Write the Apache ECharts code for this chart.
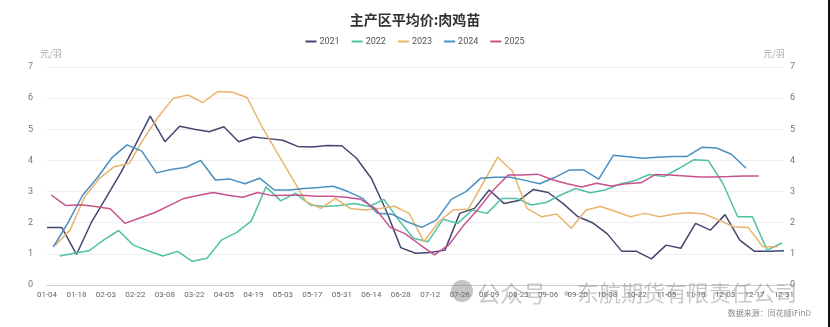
<!DOCTYPE html>
<html>
<head>
<meta charset="utf-8">
<script src="https://cdn.jsdelivr.net/npm/echarts@6/dist/echarts.min.js"></script>
<style>
  html, body { margin: 0; padding: 0; background: #fff; }
  #chart { width: 830px; height: 327px; }
</style>
</head>
<body>
<div id="chart"></div>
<script>
// Axis labels, one every two weeks
const tickLabels = ['01-04','01-18','02-03','02-22','03-08','03-22','04-05','04-19','05-03','05-17',
  '05-31','06-14','06-28','07-12','07-26','08-09','08-23','09-06','09-20','10-08',
  '10-22','11-05','11-19','12-03','12-17','12-31'];

const years = ['2021', '2022', '2023', '2024', '2025'];

// Day of January of each year's first weekly quote (axis origin is 01-04)
const firstDay = [4, 10, 8, 7, 6];

// Weekly average price of broiler chicks in main producing areas (yuan per chick)
const price2021 = [1.85,1.85,0.98,2.0,2.8,3.6,4.5,5.42,4.6,5.1,5.0,4.92,5.08,4.6,4.75,4.7,4.65,4.45,4.43,4.48,
  4.47,4.07,3.43,2.4,1.2,1.02,1.04,1.12,2.3,2.46,3.05,2.62,2.71,3.07,2.97,2.62,2.2,2.0,1.65,1.08,
  1.08,0.84,1.28,1.18,1.98,1.76,2.26,1.44,1.08,1.08,1.1];
const price2022 = [0.93,1.02,1.1,1.45,1.75,1.28,1.1,0.93,1.08,0.76,0.86,1.45,1.68,2.05,3.15,2.7,2.95,2.57,2.52,2.55,
  2.62,2.52,2.75,2.09,1.5,1.39,2.11,1.98,2.41,2.3,2.78,2.78,2.57,2.65,2.89,3.1,2.96,3.05,3.24,3.35,
  3.55,3.48,3.74,4.02,4.0,3.26,2.19,2.19,1.12,1.35];
const price2023 = [1.28,1.77,2.84,3.43,3.8,3.9,4.71,5.41,6.0,6.1,5.86,6.21,6.19,6.02,5.09,4.28,3.48,2.68,2.46,2.78,
  2.46,2.41,2.46,2.53,2.3,1.39,2.03,2.41,2.43,3.26,4.1,3.66,2.46,2.19,2.28,1.82,2.41,2.52,2.36,2.19,
  2.3,2.19,2.28,2.32,2.28,2.09,1.87,1.85,1.23,1.23];
const price2024 = [1.22,2.0,2.89,3.45,4.1,4.5,4.3,3.6,3.71,3.78,4.0,3.37,3.4,3.25,3.43,3.05,3.05,3.1,3.13,3.17,
  3.0,2.78,2.3,2.27,2.03,1.85,2.09,2.75,3.0,3.43,3.46,3.46,3.36,3.25,3.45,3.69,3.69,3.4,4.17,4.12,
  4.07,4.1,4.13,4.13,4.42,4.4,4.2,3.75];
const price2025 = [2.89,2.55,2.58,2.52,2.45,1.98,2.15,2.32,2.55,2.78,2.88,2.97,2.88,2.82,2.97,2.87,2.88,2.88,2.85,2.85,
  2.82,2.75,2.45,1.85,1.65,1.3,0.97,1.3,1.93,2.46,3.05,3.53,3.53,3.56,3.38,3.25,3.15,3.27,3.18,3.25,
  3.28,3.55,3.53,3.5,3.47,3.47,3.48,3.5,3.5];

const prices = [price2021, price2022, price2023, price2024, price2025];
const colors = ['#434871', '#4fc2a5', '#e9b46e', '#4a8fc1', '#c7528c'];

// Place each weekly quote on the week axis (week 0 = 01-04)
function weeklyPoints(values, day) {
  const start = (day - 4) / 7;
  return values.map((v, i) => [start + i, v]);
}

const font = '"Noto Sans CJK SC", "Noto Sans", sans-serif';
const numFont = 'Roboto, "Noto Sans CJK SC", sans-serif';
const chart = echarts.init(document.getElementById('chart'));

chart.setOption({
  animation: false,
  backgroundColor: '#fff',
  textStyle: { fontFamily: font },
  color: colors,
  title: {
    text: '主产区平均价:肉鸡苗',
    left: 'center',
    top: 8,
    textStyle: { fontSize: 14, fontWeight: 'bold', color: '#333', fontFamily: font }
  },
  legend: {
    top: 32,
    left: 'center',
    itemWidth: 11,
    itemHeight: 2,
    itemGap: 12,
    icon: 'rect',
    textStyle: { fontSize: 9, color: '#555', fontFamily: numFont, padding: [0, 0, 0, -2] },
    data: years
  },
  grid: { left: 47, right: 46, top: 67, bottom: 42 },
  xAxis: {
    type: 'value',
    min: 0,
    max: 50,
    interval: 2,
    axisLine: { show: true, onZero: false, lineStyle: { color: '#ccc' } },
    axisTick: { show: false },
    splitLine: { show: false },
    axisLabel: {
      color: '#666',
      fontSize: 8,
      fontFamily: numFont,
      margin: 6,
      formatter: v => tickLabels[Math.round(v / 2)] || ''
    }
  },
  yAxis: [
    {
      type: 'value', min: 0, max: 7, interval: 1, position: 'left',
      name: '元/羽', nameGap: 9,
      nameTextStyle: { fontSize: 9, color: '#aaa', padding: [0, 0, 0, 8] },
      axisLine: { show: false }, axisTick: { show: false },
      axisLabel: { color: '#777', fontSize: 9, fontFamily: numFont, margin: 14 },
      splitLine: { lineStyle: { color: '#eee' } }
    },
    {
      type: 'value', min: 0, max: 7, interval: 1, position: 'right',
      name: '元/羽', nameGap: 9,
      nameTextStyle: { fontSize: 9, color: '#aaa', padding: [0, 20, 0, 0] },
      axisLine: { show: false }, axisTick: { show: false },
      axisLabel: { color: '#777', fontSize: 9, fontFamily: numFont, margin: 6 },
      splitLine: { show: false }
    }
  ],
  series: years.map((y, k) => ({
    name: y,
    type: 'line',
    data: weeklyPoints(prices[k], firstDay[k]),
    showSymbol: false,
    symbol: 'none',
    lineStyle: { width: 1.5, color: colors[k] },
    itemStyle: { color: colors[k] },
    z: 2 + k
  })),
  graphic: [
    {
      type: 'text', right: 19, top: 309,
      style: { text: '数据来源：同花顺iFinD', fill: '#888', font: '8px ' + font }
    },
    {
      type: 'circle', shape: { cx: 462, cy: 291, r: 11 },
      style: { fill: 'rgba(110,110,110,0.4)' }, z: 100
    },
    {
      type: 'text', left: 477, top: 282,
      style: { text: '公众号', fill: 'rgba(120,120,120,0.4)', font: '23px ' + font }, z: 100
    },
    {
      type: 'text', left: 555, top: 282,
      style: { text: '·', fill: 'rgba(120,120,120,0.4)', font: '23px ' + font }, z: 100
    },
    {
      type: 'text', left: 577, top: 282,
      style: { text: '东航期货有限责任公司', fill: 'rgba(120,120,120,0.4)', font: '22px ' + font }, z: 100
    },
    {
      type: 'rect', shape: { x: 828, y: 0, width: 2, height: 327 },
      style: { fill: '#111' }, z: 100
    }
  ]
});
</script>
</body>
</html>
